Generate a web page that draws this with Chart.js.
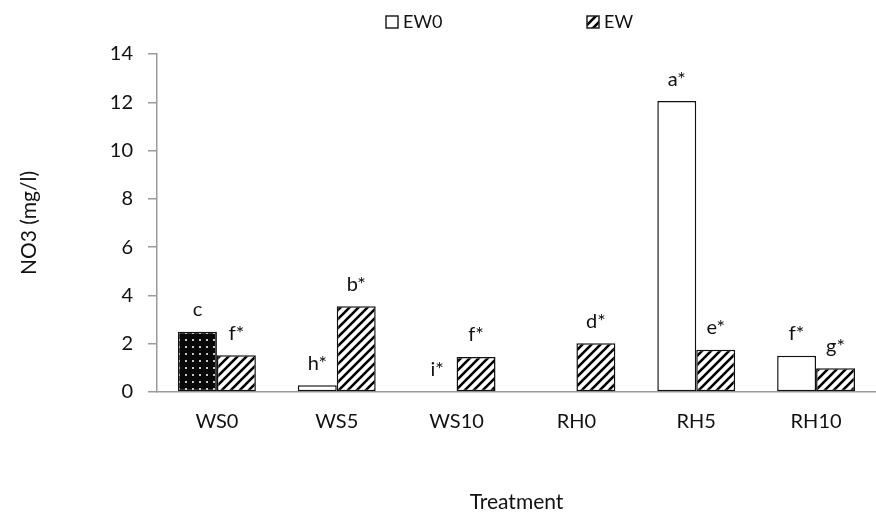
<!DOCTYPE html>
<html>
<head>
<meta charset="utf-8">
<script src="https://cdn.jsdelivr.net/npm/chart.js@4"></script>
<style>
  body { margin: 0; background: #fff; }
  #wrap { width: 876px; height: 515px; position: relative; }
</style>
</head>
<body>
<div id="wrap"><canvas id="Chart-no3"></canvas></div>
<script>
/* donnees du graphique */
const treatments = ['WS0', 'WS5', 'WS10', 'RH0', 'RH5', 'RH10']
const ew0Values = [2.5, 0.28, 0.03, 0, 12.05, 1.5]
const ewValues = [1.52, 3.55, 1.45, 2.02, 1.75, 0.98]
const ew0Letters = ['c', 'h*', 'i*', '', 'a*', 'f*']
const ewLetters = ['f*', 'b*', 'f*', 'd*', 'e*', 'g*']
const yTicks = [0, 2, 4, 6, 8, 10, 12, 14]

const FONT = 'Lato'
const TXT = '#111'
const AXIS = '#9a9a9a'

const canvas = document.getElementById('Chart-no3')
const ctx = canvas.getContext('2d')

// hachures "/" pour EW
function makeHatch() {
  const c = document.createElement('canvas')
  c.width = 9
  c.height = 9
  const g = c.getContext('2d')
  g.fillStyle = '#fff'
  g.fillRect(0, 0, 9, 9)
  g.strokeStyle = '#000'
  g.lineWidth = 2.6
  g.beginPath()
  g.moveTo(-1, 10); g.lineTo(10, -1)
  g.moveTo(-2, 2); g.lineTo(2, -2)
  g.moveTo(7, 11); g.lineTo(11, 7)
  g.stroke()
  return ctx.createPattern(c, 'repeat')
}

// points blancs sur fond noir (barre WS0 EW0)
function makeDots() {
  const c = document.createElement('canvas')
  c.width = 7
  c.height = 7
  const g = c.getContext('2d')
  g.fillStyle = '#080808'
  g.fillRect(0, 0, 7, 7)
  g.fillStyle = '#c8c8c8'
  g.fillRect(3, 3, 2, 2)
  return ctx.createPattern(c, 'repeat')
}

const hatch = makeHatch()
const dots = makeDots()
const ew0Fill = treatments.map((t, i) => i === 0 ? dots : '#fff')

/* lettres au dessus des barres */
const letterPlugin = {
  id: 'letters',
  afterDatasetsDraw(chart) {
    const c = chart.ctx
    const sets = [ew0Letters, ewLetters]
    c.save()
    c.font = '20px ' + FONT
    c.fillStyle = TXT
    c.textAlign = 'center'
    c.textBaseline = 'middle'
    sets.forEach((letters, d) => {
      chart.getDatasetMeta(d).data.forEach((bar, i) => {
        if (!letters[i]) return
        c.fillText(letters[i], bar.x, bar.y - 22)
      })
    })
    c.restore()
  }
}

/* legende en haut */
const legendPlugin = {
  id: 'legendTop',
  afterDraw(chart) {
    const c = chart.ctx
    const items = [
      { text: 'EW0', fill: '#fff', x: 386 },
      { text: 'EW', fill: hatch, x: 587 }
    ]
    c.save()
    c.font = '18px ' + FONT
    c.textBaseline = 'middle'
    items.forEach(it => {
      c.fillStyle = it.fill
      c.fillRect(it.x, 16, 12, 12)
      c.strokeStyle = '#222'
      c.lineWidth = 1.5
      c.strokeRect(it.x, 16, 12, 12)
      c.fillStyle = TXT
      c.fillText(it.text, it.x + 17, 22)
    })
    c.restore()
  }
}

new Chart(canvas, {
  type: 'bar',
  data: {
    labels: treatments,
    datasets: [{
      label: 'EW0',
      data: ew0Values,
      backgroundColor: ew0Fill,
      borderColor: '#111',
      borderWidth: 1.5,
      borderSkipped: false
    }, {
      label: 'EW',
      data: ewValues,
      backgroundColor: hatch,
      borderColor: '#111',
      borderWidth: 1.5,
      borderSkipped: false
    }]
  },
  options: {
    responsive: true,
    maintainAspectRatio: false,
    animation: false,
    layout: { padding: { top: 54, left: 8, right: 0, bottom: 0 } },
    datasets: { bar: { categoryPercentage: 0.65, barPercentage: 1 } },
    plugins: {
      legend: { display: false },
      tooltip: { enabled: false }
    },
    scales: {
      x: {
        grid: { display: false, drawTicks: false },
        border: { color: AXIS, width: 1.5 },
        ticks: { color: TXT, font: { family: FONT, size: 20 }, padding: 18, maxRotation: 0 },
        title: {
          display: true,
          text: 'Treatment',
          color: TXT,
          font: { family: FONT, size: 21, lineHeight: 1.1 },
          padding: { top: 0, bottom: 1 }
        },
        afterFit: (scale) => { scale.height = 515 - 392 }
      },
      y: {
        min: yTicks[0],
        max: yTicks[yTicks.length - 1],
        ticks: { stepSize: yTicks[1] - yTicks[0], color: TXT, font: { family: FONT, size: 20 }, padding: 15 },
        grid: { drawOnChartArea: false, drawTicks: true, tickLength: 9, color: AXIS, lineWidth: 1.5 },
        border: { color: AXIS, width: 1.5 },
        title: {
          display: true,
          text: 'NO3 (mg/l)',
          color: TXT,
          font: { family: FONT, size: 21, lineHeight: 1.2 },
          padding: { top: 9, bottom: 0 }
        },
        afterFit: (scale) => { scale.width = 157 - 8 }
      }
    }
  },
  plugins: [letterPlugin, legendPlugin]
})
</script>
</body>
</html>
